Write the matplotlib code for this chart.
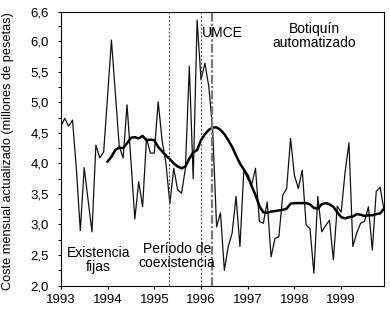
import matplotlib
matplotlib.use('Agg')
import matplotlib.pyplot as plt
import numpy as np

plt.rcParams['font.family'] = ['Liberation Sans', 'DejaVu Sans']

# coste mensual (millones de pesetas), ene 1993 - dic 1999
coste = [4.60, 4.74, 4.61, 4.71, 3.90, 2.90, 3.93, 3.40, 2.88, 4.30, 4.09, 4.19,
         5.10, 6.02, 5.15, 4.28, 4.09, 4.96, 4.05, 3.09, 3.70, 3.29, 4.41, 4.17,
         4.17, 5.01, 4.38, 4.00, 3.34, 3.92, 3.57, 3.51, 3.92, 5.59, 3.75, 6.35,
         5.37, 5.64, 5.26, 4.55, 2.96, 3.19, 2.25, 2.64, 2.86, 3.46, 2.64, 3.89,
         3.75, 3.65, 3.92, 3.05, 3.02, 3.37, 2.47, 2.77, 2.80, 3.48, 3.59, 4.41,
         3.80, 3.59, 3.89, 2.99, 2.93, 2.20, 3.46, 2.88, 2.98, 3.07, 2.42, 3.30,
         3.20, 3.85, 4.34, 2.64, 2.86, 3.02, 3.05, 3.29, 2.58, 3.54, 3.61, 3.24]

# media movil (desde ene 1994)
media = [4.03, 4.11, 4.22, 4.26, 4.25, 4.33, 4.42, 4.43, 4.41, 4.45, 4.38, 4.39,
         4.38, 4.27, 4.20, 4.13, 4.07, 4.00, 3.95, 3.92, 3.95, 4.08, 4.18, 4.22,
         4.38, 4.48, 4.55, 4.59, 4.59, 4.55, 4.48, 4.38, 4.27, 4.13, 4.00, 3.90,
         3.80, 3.63, 3.48, 3.30, 3.20, 3.19, 3.21, 3.22, 3.23, 3.24, 3.26, 3.34,
         3.35, 3.35, 3.35, 3.35, 3.33, 3.27, 3.26, 3.33, 3.35, 3.33, 3.29, 3.20,
         3.12, 3.10, 3.12, 3.13, 3.17, 3.16, 3.14, 3.15, 3.15, 3.17, 3.18, 3.26]

meses = 1993 + np.arange(len(coste)) / 12.0
meses_media = meses[len(coste) - len(media):]

years = [1993, 1994, 1995, 1996, 1997, 1998, 1999]
yticks = [2.0, 2.5, 3.0, 3.5, 4.0, 4.5, 5.0, 5.5, 6.0, 6.48]
ylabels = ['2,0', '2,5', '3,0', '3,5', '4,0', '4,5', '5,0', '5,5', '6,0', '6,6']

fig = plt.figure(figsize=(3.9, 3.09), dpi=100)
ax = fig.add_axes([0.156, 0.076, 0.829, 0.885])

ax.plot(meses, coste, color='#111111', lw=0.9)
ax.plot(meses_media, media, color='black', lw=1.8)

# periodos
ax.axvline(1995.31, color='#555555', lw=0.8, ls=(0, (2, 1.5)))
ax.axvline(1996.0, color='#555555', lw=0.8, ls=(0, (2, 1.5)))
ax.axvline(1996.24, color='#777777', lw=1.6, ls=(0, (4, 1, 1, 1)))

ax.text(1993.81, 2.42, 'Existencia\nfijas', ha='center', va='center',
        fontsize=10, linespacing=1.0)
ax.text(1995.49, 2.48, 'Período de\ncoexistencia', ha='center', va='center',
        fontsize=10, linespacing=1.0)
ax.text(1996.02, 6.14, 'UMCE', ha='left', va='center', fontsize=10)
ax.text(1998.42, 6.09, 'Botiquín\nautomatizado', ha='center', va='center',
        fontsize=10, linespacing=1.0)

ax.set_xlim(1993, 1999.92)
ax.set_ylim(2.0, 6.48)
ax.set_xticks(years)
ax.set_xticklabels([str(y) for y in years])
ax.set_yticks(yticks)
ax.set_yticklabels(ylabels)
ax.set_yticks(np.arange(2.25, 6.3, 0.5), minor=True)

ax.tick_params(axis='both', which='both', direction='out', length=2.5,
               width=0.8, labelsize=9.5)
ax.tick_params(axis='y', pad=6)
ax.tick_params(axis='x', pad=3.5)

for s in ax.spines.values():
    s.set_linewidth(0.8)

ax.set_ylabel('Coste mensual actualizado (millones de pesetas)', fontsize=9.2)
ax.yaxis.set_label_coords(-0.145, 0.49)

fig.savefig('out.png', dpi=100)
